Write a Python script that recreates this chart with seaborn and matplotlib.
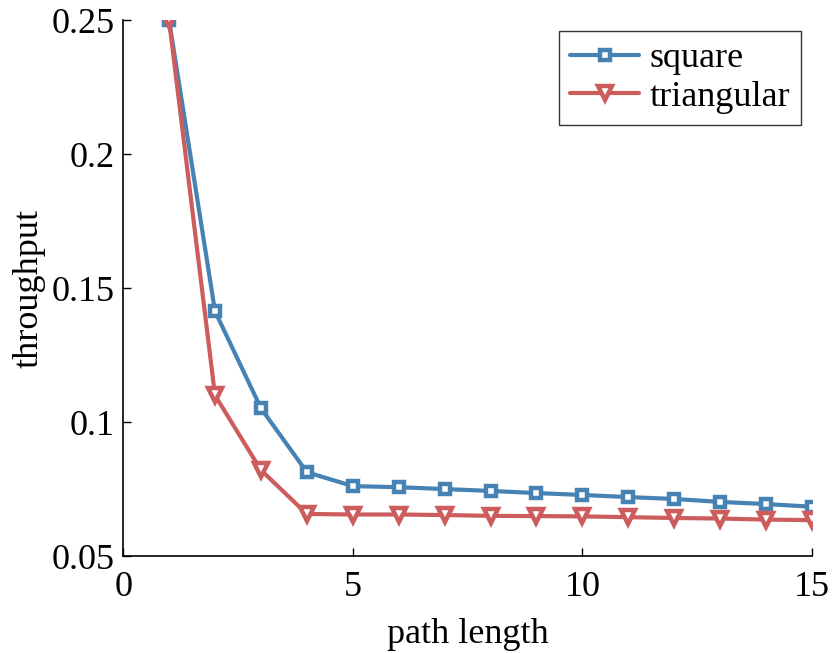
import numpy as np
import pandas as pd
import matplotlib
matplotlib.use("Agg")
import matplotlib.pyplot as plt
import seaborn as sns

path_length = list(range(1, 16))
square = [0.25, 0.1414, 0.1052, 0.0813, 0.0761, 0.0757, 0.0750, 0.0743,
          0.0735, 0.0728, 0.0720, 0.0713, 0.0702, 0.0694, 0.0684]
triangular = [0.25, 0.1100, 0.0821, 0.0657, 0.0655, 0.0655, 0.0653, 0.0650,
              0.0649, 0.0648, 0.0645, 0.0642, 0.0640, 0.0636, 0.0634]

df = pd.concat([
    pd.DataFrame({"path length": path_length, "throughput": square, "kind": "square"}),
    pd.DataFrame({"path length": path_length, "throughput": triangular, "kind": "triangular"}),
])

sns.set_style("ticks")
plt.rcParams["font.family"] = ["Liberation Serif", "DejaVu Serif"]
plt.rcParams["xtick.direction"] = "in"
plt.rcParams["ytick.direction"] = "in"
plt.rcParams["text.color"] = "black"
plt.rcParams["axes.labelcolor"] = "black"
plt.rcParams["xtick.color"] = "black"
plt.rcParams["ytick.color"] = "black"

fig = plt.figure(figsize=(8.32, 6.53), dpi=100)
ax = fig.add_axes([0.148, 0.1485, 0.828, 0.8205])

palette = {"square": "#4682B4", "triangular": "#CD5C5C"}
sns.lineplot(data=df, x="path length", y="throughput", hue="kind", style="kind",
             markers={"square": "s", "triangular": "v"}, dashes=False,
             palette=palette, linewidth=3, markersize=10, ax=ax, legend=True)

# matlab-like open markers with thick edges
msize = {"s": 7, "v": 10}


def style_marker(ln):
    c = ln.get_color()
    ln.set_markeredgecolor(c)
    ln.set_markerfacecolor("white")
    ln.set_markeredgewidth(3.2)
    m = ln.get_marker()
    if m in msize:
        ln.set_markersize(msize[m])


for ln in ax.lines:
    style_marker(ln)

ax.set_xlim(0, 15)
ax.set_ylim(0.05, 0.25)
ax.set_xticks([0, 5, 10, 15])
ax.set_yticks([0.05, 0.1, 0.15, 0.2, 0.25])
ax.set_yticklabels(["0.05", "0.1", "0.15", "0.2", "0.25"])
ax.tick_params(labelsize=26, length=6, width=1)
ax.tick_params(axis="x", pad=11)
ax.tick_params(axis="y", pad=6)
ax.set_xlabel("path length", fontsize=26, labelpad=10)
ax.set_ylabel("throughput", fontsize=26, labelpad=4)
sns.despine(ax=ax)
for s in ["left", "bottom"]:
    ax.spines[s].set_linewidth(1.2)
    ax.spines[s].set_color("black")

handles, labels = ax.get_legend_handles_labels()
leg = ax.legend(handles, labels, loc="upper right", fontsize=26, frameon=True,
                fancybox=False, edgecolor="black", borderpad=0.3,
                handlelength=1.9, handletextpad=0.3, labelspacing=0.15,
                borderaxespad=0.3)
leg.get_frame().set_linewidth(1.0)
for h in leg.legend_handles:
    style_marker(h)

fig.savefig("out.png", dpi=100)
